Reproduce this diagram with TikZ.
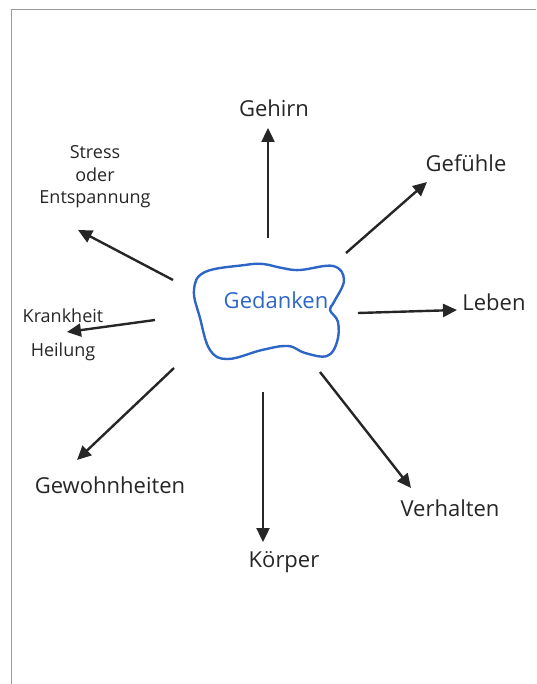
\documentclass[tikz,border=0pt]{standalone}
\usepackage{fontspec}
\setmainfont{Open Sans}
\usepackage{xcolor}
\usetikzlibrary{arrows.meta, positioning, calc}

\definecolor{inkdark}{HTML}{262626}
\definecolor{inkblue}{HTML}{2E66C8}
\definecolor{pageline}{HTML}{9A9A9A}

\tikzset{
  word/.style={text=inkdark, font=\fontsize{22}{24}\selectfont, inner sep=1pt},
  small word/.style={text=inkdark, font=\fontsize{18}{22.5}\selectfont, inner sep=1pt, align=center},
  link/.style={line width=2.4pt, draw=inkdark, -{Triangle[length=14pt,width=13pt]}},
  blob/.style={line width=2.4pt, draw=inkblue}
}

\begin{document}
\begin{tikzpicture}[x=1pt,y=-1pt]
  \useasboundingbox (0,0) rectangle (536,684);

  % Page edges
  \draw[pageline, line width=1pt] (11,684) -- (11,10) -- (536,10);

  % Thought cloud
  \draw[blob] plot[smooth cycle, tension=0.65] coordinates {
    (205,272) (245,265) (263,264) (282,268) (300,270) (333,266)
    (344,280) (334,302) (330,310) (338,322) (337,342) (327,356)
    (305,353) (288,346) (262,350) (228,359) (210,350) (200,318)
    (194,290)};
  \node[word, text=inkblue] (gedanken) at (276,300) {Gedanken};

  % Labels
  \node[word] (gehirn) at (274,108) {Gehirn};
  \node[word] (gefuehle) at (466,163) {Gefühle};
  \node[word] (leben) at (494,302) {Leben};
  \node[word] (verhalten) at (450,508) {Verhalten};
  \node[word] (koerper) at (284,562) {Körper};
  \node[word] (gewohnheiten) at (110,485) {Gewohnheiten};
  \node[small word] (krankheit) at (63,316) {Krankheit};
  \node[small word] (heilung) at (63,352) {Heilung};
  \node[small word] (stress) at (95,177) {Stress\\oder\\Entspannung};

  % Arrow ends
  \coordinate (gehirn-from) at (268,238);
  \coordinate (gehirn-to) at (268,128);
  \coordinate (gefuehle-from) at (346,253);
  \coordinate (gefuehle-to) at (427,182);
  \coordinate (leben-from) at (358,313);
  \coordinate (leben-to) at (457,310);
  \coordinate (verhalten-from) at (320,372);
  \coordinate (verhalten-to) at (411,488);
  \coordinate (koerper-from) at (263,392);
  \coordinate (koerper-to) at (263,542);
  \coordinate (gewohnheiten-from) at (174,368);
  \coordinate (gewohnheiten-to) at (77,460);
  \coordinate (krankheit-from) at (155,320);
  \coordinate (krankheit-to) at (67,332);
  \coordinate (stress-from) at (173,280);
  \coordinate (stress-to) at (78,230);

  % Arrows
  \foreach \n in {gehirn, gefuehle, leben, verhalten, koerper,
                  gewohnheiten, krankheit, stress}
    \draw[link] (\n-from) -- (\n-to);
\end{tikzpicture}
\end{document}
